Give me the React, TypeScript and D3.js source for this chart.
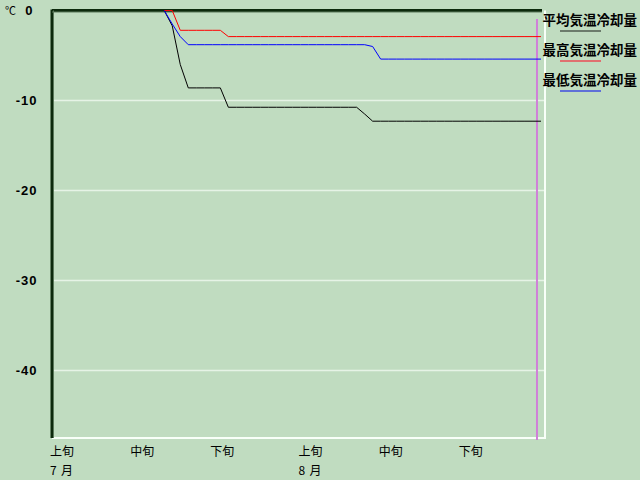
import React from "react";
import * as d3 from "d3";

// Day index 0 = 7月1日 ... 61 = 8月31日
const days: number[] = d3.range(14, 62);

const avgCooling: number[] = [0, -1.7, -6.0, -8.6, -8.6, -8.6, -8.6, -8.6, -10.75,
  -10.75, -10.75, -10.75, -10.75, -10.75, -10.75, -10.75, -10.75, -10.75, -10.75, -10.75,
  -10.75, -10.75, -10.75, -10.75, -10.75, -11.5, -12.3, -12.3, -12.3, -12.3, -12.3, -12.3,
  -12.3, -12.3, -12.3, -12.3, -12.3, -12.3, -12.3, -12.3, -12.3, -12.3, -12.3, -12.3,
  -12.3, -12.3, -12.3, -12.3];
const maxCooling: number[] = [0, 0, -2.2, -2.2, -2.2, -2.2, -2.2, -2.2, -2.9,
  -2.9, -2.9, -2.9, -2.9, -2.9, -2.9, -2.9, -2.9, -2.9, -2.9, -2.9,
  -2.9, -2.9, -2.9, -2.9, -2.9, -2.9, -2.9, -2.9, -2.9, -2.9, -2.9, -2.9,
  -2.9, -2.9, -2.9, -2.9, -2.9, -2.9, -2.9, -2.9, -2.9, -2.9, -2.9, -2.9,
  -2.9, -2.9, -2.9, -2.9];
const minCooling: number[] = [0, -1.5, -2.9, -3.8, -3.8, -3.8, -3.8, -3.8, -3.8,
  -3.8, -3.8, -3.8, -3.8, -3.8, -3.8, -3.8, -3.8, -3.8, -3.8, -3.8,
  -3.8, -3.8, -3.8, -3.8, -3.8, -3.8, -4.0, -5.4, -5.4, -5.4, -5.4, -5.4,
  -5.4, -5.4, -5.4, -5.4, -5.4, -5.4, -5.4, -5.4, -5.4, -5.4, -5.4, -5.4,
  -5.4, -5.4, -5.4, -5.4];

const yTicks: number[] = [0, -10, -20, -30, -40];
const xTickDays: number[] = [0, 10, 20, 31, 41, 51];
const xTickLabels: string[] = ["上旬", "中旬", "下旬", "上旬", "中旬", "下旬"];
const monthDays: number[] = [0, 31];
const monthNums: string[] = ["7", "8"];
const monthUnit = "月";
const markerDay = 60.5;

const seriesNames: string[] = ["平均気温冷却量", "最高気温冷却量", "最低気温冷却量"];
const seriesColors: string[] = ["#000000", "#ff0000", "#0000ff"];
const legendColors: string[] = ["#6c7c6c", "#e07070", "#6070d8"];

const W = 640, H = 480;
const L = 52, R = 545, T = 10.5, B = 438;

export default function App() {
  const x = d3.scaleLinear().domain([0, 61.5]).range([L, R]);
  const y = d3.scaleLinear().domain([-47.5, 0]).range([B, T]);
  const line = d3.line<[number, number]>().x(d => x(d[0])).y(d => y(d[1]));
  const series = [avgCooling, maxCooling, minCooling];
  const cjk = "'Noto Sans CJK JP', sans-serif";
  const num = "'Liberation Sans', Arial, sans-serif";

  return (
    <svg width={W} height={H} style={{ position: "fixed", left: 0, top: 0 }}>
      <rect x={0} y={0} width={W} height={H} fill="#c0dcc0" />
      {yTicks.filter(t => t !== 0).map(t => (
        <line key={t} x1={L} x2={R} y1={y(t)} y2={y(t)} stroke="#e6f3e6" strokeWidth={1.5} />
      ))}
      {/* 3D frame */}
      <line x1={R} x2={R} y1={T} y2={B + 1} stroke="#f8fff8" strokeWidth={2} />
      <line x1={L} x2={R + 1} y1={B} y2={B} stroke="#f8fff8" strokeWidth={2} />
      <line x1={L} x2={542} y1={T} y2={T} stroke="#0c2a0c" strokeWidth={3} />
      <line x1={L} x2={L} y1={T - 1} y2={B} stroke="#0c2a0c" strokeWidth={3} />
      <line x1={L} x2={542} y1={T + 1.5} y2={T + 1.5} stroke="#5a785a" strokeWidth={1} />
      <line x1={L + 1.5} x2={L + 1.5} y1={T} y2={B} stroke="#5a785a" strokeWidth={1} />
      {/* marker */}
      <line x1={x(markerDay)} x2={x(markerDay)} y1={19} y2={440} stroke="#d080d8" strokeWidth={2} />
      {series.map((vals, i) => (
        <path key={i}
          d={line(days.map((d, j) => [d, vals[j]] as [number, number])) || ""}
          fill="none" stroke={seriesColors[i]} strokeWidth={1} />
      ))}
      {/* y axis labels */}
      <text x={5} y={15} fontFamily={cjk} fontSize={11} fill="#000">℃</text>
      {yTicks.map(t => (
        <text key={t} x={t === 0 ? 33.5 : 37.5} y={y(t) + 4.5} textAnchor="end"
          fontFamily={num} fontWeight="bold" fontSize={13} letterSpacing={1} fill="#000">{t}</text>
      ))}
      {/* x axis labels */}
      {xTickDays.map((d, i) => (
        <text key={i} x={x(d) - 2} y={456} fontFamily={cjk} fontSize={12} fill="#000">{xTickLabels[i]}</text>
      ))}
      {monthDays.map((d, i) => (
        <g key={i}>
          <text x={x(d) - 2} y={475} fontFamily={cjk} fontSize={12} fill="#000">{monthNums[i]}</text>
          <text x={x(d) + 9} y={475} fontFamily={cjk} fontSize={12} fill="#000">{monthUnit}</text>
        </g>
      ))}
      {/* legend */}
      {seriesNames.map((n, i) => (
        <g key={n}>
          <text x={542.5} y={25 + i * 30} fontFamily={cjk} fontWeight="bold" fontSize={13.5} fill="#000">{n}</text>
          <line x1={560} x2={601} y1={31 + i * 30} y2={31 + i * 30} stroke={legendColors[i]} strokeWidth={2} />
        </g>
      ))}
    </svg>
  );
}
